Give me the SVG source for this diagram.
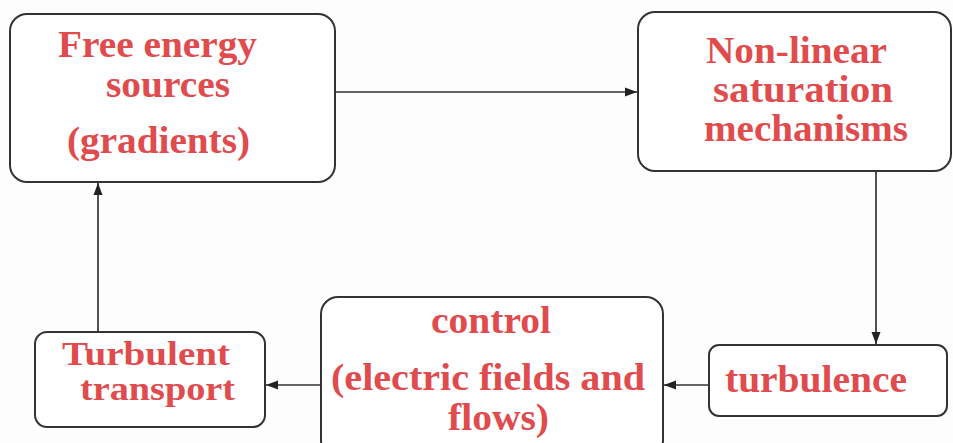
<svg xmlns="http://www.w3.org/2000/svg" width="953" height="443" viewBox="0 0 953 443">
<defs>
<style>
.box{fill:#fff;stroke:#333;stroke-width:2}
.t{font-family:"Liberation Serif","Times New Roman",serif;font-weight:bold;font-size:38px;fill:#e04b4d}
.s{font-size:33px}
.c{stroke:#333;stroke-width:1.7;fill:none}
</style>
<marker id="ah" viewBox="0 0 12 10" refX="12" refY="5" markerWidth="12" markerHeight="10" markerUnits="userSpaceOnUse" orient="auto">
<path d="M0,0.5 L12,5 L0,9.5 Z" fill="#222"/>
</marker>
</defs>
<rect width="953" height="443" fill="#fdfdfd"/>
<g id="connectors">
<line class="c" x1="336" y1="92" x2="637" y2="92" marker-end="url(#ah)"/>
<line class="c" x1="876" y1="171" x2="876" y2="344" marker-end="url(#ah)"/>
<line class="c" x1="709" y1="385" x2="664" y2="385" marker-end="url(#ah)"/>
<line class="c" x1="321" y1="385" x2="266" y2="385" marker-end="url(#ah)"/>
<line class="c" x1="98" y1="332" x2="98" y2="183" marker-end="url(#ah)"/>
</g>
<g id="free-energy">
<rect class="box" x="10" y="14" width="325" height="168" rx="17"/>
<text class="t" x="58" y="57" textLength="199" lengthAdjust="spacingAndGlyphs">Free energy</text>
<text class="t" x="106" y="97" textLength="124" lengthAdjust="spacingAndGlyphs">sources</text>
<text class="t" x="67" y="153" textLength="183" lengthAdjust="spacingAndGlyphs">(gradients)</text>
</g>
<g id="nonlinear">
<rect class="box" x="638" y="12" width="313" height="159" rx="17"/>
<text class="t" x="706" y="63" textLength="181" lengthAdjust="spacingAndGlyphs">Non-linear</text>
<text class="t" x="713" y="102" textLength="180" lengthAdjust="spacingAndGlyphs">saturation</text>
<text class="t" x="704" y="141" textLength="204" lengthAdjust="spacingAndGlyphs">mechanisms</text>
</g>
<g id="turbulence">
<rect class="box" x="709" y="345" width="238" height="71" rx="10"/>
<text class="t" x="725" y="392" textLength="182" lengthAdjust="spacingAndGlyphs">turbulence</text>
</g>
<g id="control">
<rect class="box" x="321" y="297" width="342" height="160" rx="17"/>
<text class="t" x="431" y="333" textLength="120" lengthAdjust="spacingAndGlyphs">control</text>
<text class="t" x="331" y="390" textLength="314" lengthAdjust="spacingAndGlyphs">(electric fields and</text>
<text class="t" x="448" y="430" textLength="101" lengthAdjust="spacingAndGlyphs">flows)</text>
</g>
<g id="turbulent-transport">
<rect class="box" x="35" y="332" width="230" height="95" rx="12"/>
<text class="t s" x="62" y="365" textLength="168" lengthAdjust="spacingAndGlyphs">Turbulent</text>
<text class="t s" x="80" y="400" textLength="155" lengthAdjust="spacingAndGlyphs">transport</text>
</g>
</svg>
